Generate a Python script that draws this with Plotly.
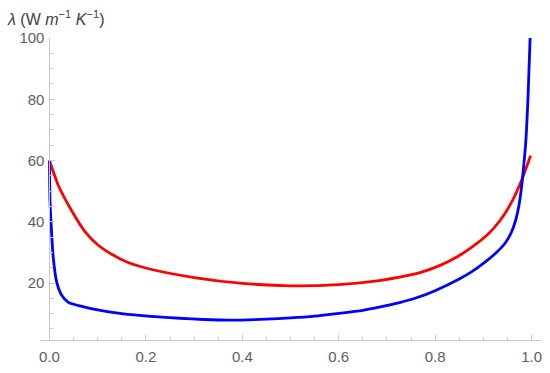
import plotly.graph_objects as go

# blue curve
blue_x = [0, 0.001, 0.0045, 0.008, 0.015, 0.025, 0.039, 0.067, 0.1, 0.15, 0.21, 0.27,
          0.32, 0.374, 0.45, 0.5, 0.55, 0.6, 0.65, 0.684, 0.726, 0.76, 0.8, 0.85, 0.877,
          0.9, 0.926, 0.945, 0.958, 0.967, 0.974, 0.979, 0.983, 0.988, 0.993, 0.997]
blue_y = [60, 47, 36, 28, 20.3, 16.1, 13.7, 12.4, 11.2, 10.0, 9.1, 8.5,
          8.1, 7.9, 8.2, 8.6, 9.2, 10.1, 11.1, 12.1, 13.6, 15.1, 17.5, 21.3, 23.8,
          26.4, 29.8, 33, 36.5, 40.5, 45.5, 51, 57, 66, 82, 100]

# red curve
red_x = [0, 0.018, 0.046, 0.074, 0.1, 0.13, 0.163, 0.21, 0.3, 0.4, 0.5, 0.6, 0.684,
         0.726, 0.77, 0.808, 0.845, 0.877, 0.91, 0.935, 0.96, 0.981, 0.998]
red_y = [60, 52, 43.6, 36.7, 32.5, 29.3, 26.7, 24.5, 21.8, 19.9, 19.1, 19.5, 20.8,
         21.9, 23.5, 25.6, 28.5, 31.8, 36, 40.5, 46.8, 54.2, 61.6]

x_ticks = [0, 0.2, 0.4, 0.6, 0.8, 1.0]
x_tick_text = ["0.0", "0.2", "0.4", "0.6", "0.8", "1.0"]
y_ticks = [20, 40, 60, 80, 100]

tick_font = dict(family="Liberation Sans, Arial", size=15, color="#5e5e5e")
axis_grey = "#c8c8c8"

fig = go.Figure()
fig.add_trace(go.Scatter(x=red_x, y=red_y, mode="lines",
                         line=dict(color="#ff0000", width=2.8, shape="spline", smoothing=0.6)))
fig.add_trace(go.Scatter(x=blue_x, y=blue_y, mode="lines",
                         line=dict(color="#0000ff", width=2.8, shape="spline", smoothing=0.6)))

fig.update_layout(
    width=550, height=373,
    margin=dict(l=40, r=8, t=38, b=25),
    paper_bgcolor="white", plot_bgcolor="white",
    showlegend=False,
    xaxis=dict(
        range=[-0.0197, 1.0196], showgrid=False, zeroline=False,
        showline=True, linecolor=axis_grey, linewidth=1,
        tickvals=x_ticks, ticktext=x_tick_text, ticks="inside", ticklen=5,
        tickcolor=axis_grey, tickfont=tick_font, ticklabelstandoff=3,
        minor=dict(dtick=0.05, tick0=0, ticks="inside", ticklen=3, tickcolor=axis_grey),
    ),
    yaxis=dict(
        range=[1.4, 100], showgrid=False, zeroline=False,
        anchor="free", position=9.5 / 502,
        showline=True, linecolor=axis_grey, linewidth=1,
        tickvals=y_ticks, ticks="inside", ticklen=5, tickcolor=axis_grey,
        tickfont=tick_font, ticklabelstandoff=2,
        minor=dict(dtick=5, tick0=0, ticks="inside", ticklen=3, tickcolor=axis_grey),
    ),
)

fig.add_annotation(
    text="<i>λ</i> (W <i>m</i><sup>−1</sup> <i>K</i><sup>−1</sup>)",
    xref="paper", yref="paper", x=-35 / 502, y=1 + 21 / 310,
    xanchor="left", yanchor="middle", showarrow=False,
    font=dict(family="Liberation Sans, Arial", size=16, color="#404040"),
)

fig.write_html("out.html", config={"displayModeBar": False},
               post_script="document.body.style.margin='0';")
